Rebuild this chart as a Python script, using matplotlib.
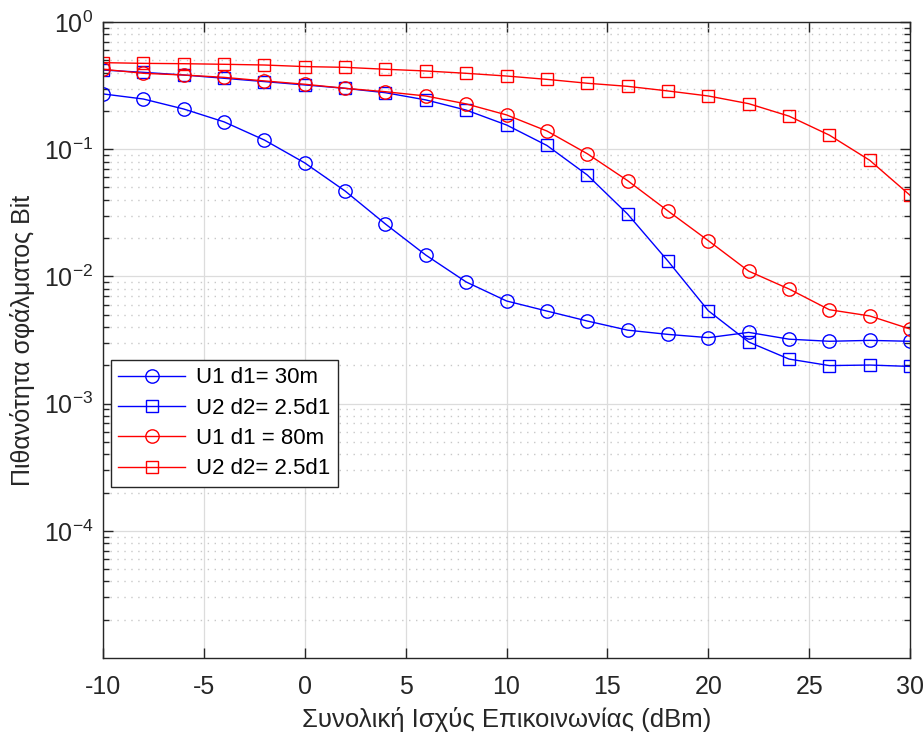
import numpy as np
import matplotlib
matplotlib.use('Agg')
import matplotlib.pyplot as plt
from matplotlib.ticker import LogLocator, NullFormatter

plt.rcParams['font.family'] = ['Liberation Sans', 'DejaVu Sans']
plt.rcParams['mathtext.default'] = 'regular'
plt.rcParams['axes.unicode_minus'] = False

power_dbm = [-10, -8, -6, -4, -2, 0, 2, 4, 6, 8, 10, 12, 14, 16, 18, 20, 22, 24, 26, 28, 30]

ber_u1_30 = [0.272, 0.248, 0.207, 0.164, 0.118, 0.078, 0.0469, 0.0258, 0.0147, 0.00904, 0.00641,
             0.00534, 0.00446, 0.00378, 0.00350, 0.00330, 0.00363, 0.00321, 0.00309, 0.00314, 0.00309]
ber_u2_30 = [0.419, 0.402, 0.383, 0.361, 0.340, 0.320, 0.301, 0.278, 0.244, 0.203, 0.155,
             0.107, 0.0627, 0.0309, 0.0132, 0.00537, 0.00305, 0.00224, 0.00199, 0.00201, 0.00196]
ber_u1_80 = [0.425, 0.395, 0.383, 0.367, 0.344, 0.324, 0.301, 0.283, 0.262, 0.227, 0.186,
             0.139, 0.0922, 0.0566, 0.0327, 0.0191, 0.0110, 0.00796, 0.00547, 0.00489, 0.00386]
ber_u2_80 = [0.479, 0.473, 0.470, 0.465, 0.459, 0.446, 0.440, 0.425, 0.412, 0.395, 0.376,
             0.354, 0.330, 0.312, 0.287, 0.262, 0.228, 0.182, 0.129, 0.0818, 0.0434]

labels = ['U1 d1= 30m', 'U2 d2= 2.5d1', 'U1 d1 = 80m', 'U2 d2= 2.5d1']

fig = plt.figure(figsize=(9.23, 7.33), dpi=100)
ax = fig.add_axes([0.1116, 0.1023, 0.8744, 0.8677])

ax.semilogy(power_dbm, ber_u1_30, '-o', color='#0000ff', mfc='none', ms=9.6, lw=1.0, mew=1.0, label=labels[0])
ax.semilogy(power_dbm, ber_u2_30, '-s', color='#0000ff', mfc='none', ms=8.6, lw=1.0, mew=1.0, label=labels[1])
ax.semilogy(power_dbm, ber_u1_80, '-o', color='#ff0000', mfc='none', ms=9.6, lw=1.0, mew=1.0, label=labels[2])
ax.semilogy(power_dbm, ber_u2_80, '-s', color='#ff0000', mfc='none', ms=8.6, lw=1.0, mew=1.0, label=labels[3])

ax.set_xlim(-10, 30)
ax.set_ylim(1e-5, 1)
ax.set_xticks(range(-10, 31, 5))
ax.set_yticks([1e-4, 1e-3, 1e-2, 1e-1, 1])
ax.yaxis.set_minor_locator(LogLocator(base=10, subs=np.arange(2, 10), numticks=20))
ax.yaxis.set_minor_formatter(NullFormatter())

ax.grid(True, which='major', color='#dcdcdc', linestyle='-', linewidth=0.9)
ax.grid(True, which='minor', axis='y', color='#c8c8c8', linestyle=(0, (1, 4)), linewidth=1.0)
ax.set_axisbelow(True)

ax.tick_params(which='both', direction='in', top=True, right=True, colors='#262626',
               labelcolor='#262626', labelsize=18)
ax.tick_params(which='major', length=7, width=1.0)
ax.tick_params(which='minor', length=4, width=1.0)
ax.tick_params(axis='x', pad=12)
ax.tick_params(axis='y', pad=7)
for s in ax.spines.values():
    s.set_color('#262626')
    s.set_linewidth(1.0)

ax.set_xlabel('Συνολική Ισχύς Επικοινωνίας (dBm)', fontsize=18.5, color='#262626', labelpad=6)
ax.set_ylabel('Πιθανότητα σφάλματος Bit', fontsize=18, color='#262626', labelpad=6)

leg = ax.legend(loc='upper left', bbox_to_anchor=(0.0095, 0.469), fontsize=16,
                frameon=True, fancybox=False, edgecolor='#262626', framealpha=1,
                handlelength=3.0, borderaxespad=0, labelspacing=0.42, borderpad=0.35,
                handletextpad=0.5)
leg.get_frame().set_linewidth(1.0)

fig.savefig('out.png', dpi=100)
